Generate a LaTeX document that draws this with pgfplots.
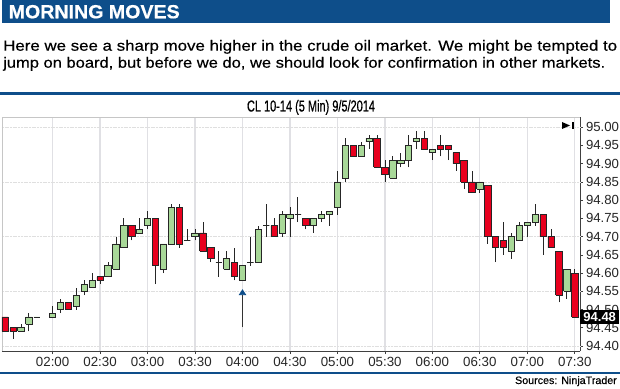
\documentclass[border=0pt]{standalone}
\usepackage{pgfplots}
\pgfplotsset{compat=1.18}
\usepackage{pgfplotstable}
\usetikzlibrary{arrows.meta}
\usepackage{graphicx}
\usepackage{fontspec}
\setmainfont{Liberation Sans}
\newfontfamily\parafont[FakeBold=0.35]{Liberation Sans}
\newfontfamily\titlefont[FakeBold=0.8]{Liberation Sans}
\newfontfamily\hdrfont[BoldFeatures={FakeBold=0.6}]{Liberation Sans}
\definecolor{hdrblue}{RGB}{14,78,138}
\definecolor{upgreen}{RGB}{168,216,152}
\definecolor{dnred}{RGB}{232,0,30}
\definecolor{gridgray}{RGB}{224,224,228}

% t = bar index (0 = 01:30, 5-minute bars), o h l c
\pgfplotstableread{
t o h l c
0 94.48 94.48 94.44 94.44
1 94.45 94.45 94.42 94.44
2 94.44 94.46 94.44 94.45
3 94.46 94.49 94.44 94.48
4 94.48 94.48 94.48 94.48
6 94.48 94.51 94.48 94.49
7 94.50 94.53 94.49 94.52
8 94.52 94.52 94.50 94.50
9 94.51 94.56 94.50 94.54
10 94.55 94.58 94.54 94.57
11 94.56 94.60 94.56 94.58
12 94.59 94.59 94.57 94.58
13 94.59 94.63 94.59 94.62
14 94.61 94.70 94.61 94.68
15 94.67 94.75 94.67 94.73
16 94.73 94.73 94.69 94.70
17 94.71 94.75 94.71 94.72
18 94.73 94.77 94.72 94.75
19 94.75 94.75 94.57 94.62
20 94.61 94.68 94.60 94.68
21 94.68 94.79 94.68 94.78
22 94.78 94.79 94.67 94.68
23 94.69 94.72 94.69 94.69
24 94.70 94.72 94.69 94.71
25 94.71 94.74 94.66 94.66
26 94.67 94.67 94.63 94.64
27 94.63 94.66 94.59 94.63
28 94.61 94.66 94.61 94.64
29 94.63 94.67 94.58 94.59
30 94.58 94.62 94.58 94.62
31 94.63 94.70 94.62 94.63
32 94.63 94.73 94.63 94.72
33 94.73 94.79 94.70 94.73
34 94.73 94.75 94.70 94.70
35 94.71 94.77 94.70 94.76
36 94.75 94.78 94.70 94.76
37 94.76 94.81 94.74 94.76
38 94.75 94.75 94.72 94.73
39 94.73 94.75 94.71 94.75
40 94.75 94.77 94.74 94.76
41 94.76 94.77 94.73 94.77
42 94.78 94.88 94.76 94.85
43 94.86 94.97 94.85 94.95
44 94.95 94.95 94.92 94.92
45 94.92 94.96 94.92 94.95
46 94.96 94.98 94.94 94.97
47 94.97 94.98 94.89 94.89
48 94.89 94.91 94.85 94.87
49 94.86 94.92 94.86 94.91
50 94.90 94.93 94.89 94.91
51 94.91 94.98 94.89 94.95
52 94.96 94.99 94.94 94.97
53 94.97 94.99 94.94 94.94
54 94.93 94.94 94.91 94.94
55 94.95 94.98 94.92 94.94
56 94.95 94.95 94.91 94.94
57 94.93 94.93 94.88 94.90
58 94.91 94.91 94.83 94.85
59 94.85 94.88 94.82 94.82
60 94.83 94.85 94.82 94.85
61 94.84 94.84 94.68 94.70
62 94.70 94.70 94.63 94.67
63 94.69 94.74 94.65 94.67
64 94.66 94.71 94.64 94.70
65 94.69 94.74 94.69 94.73
66 94.73 94.74 94.70 94.74
67 94.74 94.79 94.73 94.76
68 94.76 94.76 94.65 94.70
69 94.70 94.72 94.67 94.67
70 94.66 94.66 94.52 94.54
71 94.55 94.61 94.53 94.61
72 94.60 94.61 94.48 94.48
}\candles

\begin{document}
\begin{tikzpicture}
\useasboundingbox (0,0) rectangle (620pt,388pt);
\fill[white] (0,0) rectangle (620pt,388pt);
% header band
\fill[hdrblue] (1.7pt,365.3pt) rectangle (610pt,388pt);
\node[anchor=base west, inner sep=0pt, text=white] at (8.5pt,369.7pt)
  {\resizebox{171pt}{13.3pt}{\hdrfont\bfseries MORNING MOVES}};
% paragraph
\node[anchor=base west, inner sep=0pt] at (3pt,337.3pt)
  {\resizebox{614pt}{10.7pt}{\parafont Here we see a sharp move higher in the crude oil market. We might be tempted to}};
\node[anchor=base west, inner sep=0pt] at (3pt,320.3pt)
  {\resizebox{602pt}{10.7pt}{\parafont jump on board, but before we do, we should look for confirmation in other markets.}};
% rule
\fill[hdrblue] (0pt,293.3pt) rectangle (620pt,295.8pt);
% title
\node[anchor=base, inner sep=0pt] at (311pt,276.5pt)
  {\resizebox{128pt}{11.5pt}{\titlefont CL 10-14 (5 Min) 9/5/2014}};

\begin{axis}[
  at={(2pt,37pt)}, anchor=south west,
  scale only axis, width=578pt, height=234pt,
  xmin=-0.4, xmax=72.66, ymin=94.3865, ymax=95.028,
  clip=false,
  axis x line*=bottom, axis y line*=right,
  axis line style={black!75, line width=0.8pt},
  tick align=outside, major tick length=3pt,
  tick style={black!75, line width=0.7pt},
  xtick={6,12,18,24,30,36,42,48,54,60,66,72},
  xticklabels={02:00,02:30,03:00,03:30,04:00,04:30,05:00,05:30,06:00,06:30,07:00,07:30},
  ytick={94.40,94.45,94.50,94.55,94.60,94.65,94.70,94.75,94.80,94.85,94.90,94.95,95.00},
  yticklabels={94.40,94.45,94.50,94.55,94.60,94.65,94.70,94.75,94.80,94.85,94.90,94.95,95.00},
  xticklabel style={font=\fontsize{13.3}{14}\selectfont, text=black!85},
  yticklabel style={font=\fontsize{13.2}{14}\selectfont, text=black!85, xshift=-0.5pt},
  xmajorgrids,
  major grid style={gridgray, line width=1.3pt},
  extra y ticks={94.40,94.55,94.70,94.85,95.00},
  extra y tick labels={},
  extra y tick style={grid=major, major tick length=0pt, major grid style={gray!25, line width=0.7pt, dash pattern=on 2pt off 0.7pt}},
]
\draw[gray!45, line width=0.9pt] (rel axis cs:0,0) -- (rel axis cs:0,1) -- (rel axis cs:1,1);
\pgfplotstablegetrowsof{\candles}
\pgfmathtruncatemacro{\lastrow}{\pgfplotsretval-1}
\pgfplotsinvokeforeach{0,...,\lastrow}{%
  \pgfplotstablegetelem{#1}{t}\of\candles\let\ct\pgfplotsretval
  \pgfplotstablegetelem{#1}{o}\of\candles\let\co\pgfplotsretval
  \pgfplotstablegetelem{#1}{h}\of\candles\let\ch\pgfplotsretval
  \pgfplotstablegetelem{#1}{l}\of\candles\let\cl\pgfplotsretval
  \pgfplotstablegetelem{#1}{c}\of\candles\let\cc\pgfplotsretval
  \ifdim\cc pt<\co pt
    \def\cfill{dnred}\let\bl\cc\let\bh\co
  \else
    \def\cfill{upgreen}\let\bl\co\let\bh\cc
  \fi
  \pgfmathsetmacro\xa{\ct-0.4}%
  \pgfmathsetmacro\xb{\ct+0.4}%
  \edef\doplot{%
    \noexpand\addplot[draw=black!85, line width=0.8pt, mark=none] coordinates {(\ct,\cl) (\ct,\ch)};
    \noexpand\addplot[draw=black!85, line width=0.75pt, line join=miter, mark=none, fill=\cfill]
      coordinates {(\xa,\bl) (\xb,\bl) (\xb,\bh) (\xa,\bh) (\xa,\bl)};}%
  \doplot
}
\draw[black!80, line width=0.9pt, -{Triangle[width=7.5pt,length=6pt,color=hdrblue]}]
  (axis cs:30,94.452) -- (axis cs:30,94.556);
\node[fill=black, text=white, font=\bfseries\fontsize{13}{14}\selectfont, anchor=west,
  inner sep=1pt, minimum height=14pt, minimum width=39pt] at (axis cs:72.66,94.48) {94.48};
\end{axis}
% end-of-data icon
\fill[black] (562pt,266pt) -- (570pt,262.5pt) -- (562pt,259pt) -- cycle;
\fill[black] (571.5pt,259pt) rectangle (573.5pt,266pt);
% bottom rule and source
\fill[hdrblue] (0pt,14pt) rectangle (620pt,16.5pt);
\node[anchor=base east, inner sep=0pt, font=\parafont\fontsize{10.7}{12}\selectfont] at (617pt,4pt) {Sources: NinjaTrader};
\end{tikzpicture}
\end{document}
